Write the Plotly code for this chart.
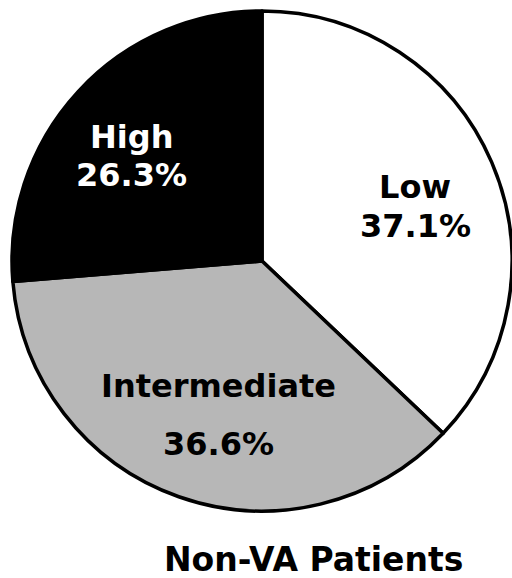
import plotly.graph_objects as go

categories = ["Low", "Intermediate", "High"]
percents = [37.1, 36.6, 26.3]
slice_colors = ["#ffffff", "#b7b7b7", "#000000"]
label_colors = ["#000000", "#000000", "#ffffff"]
title_text = "Non-VA Patients"

W, H = 512, 578

fig = go.Figure(
    go.Pie(
        labels=categories,
        values=percents,
        sort=False,
        direction="clockwise",
        rotation=0,
        marker=dict(colors=slice_colors, line=dict(color="#000000", width=3.5)),
        textinfo="none",
        hoverinfo="label+percent",
        showlegend=False,
        domain=dict(x=[12 / W, 1.0], y=[(H - 513) / H, (H - 9) / H]),
    )
)

# label text positions (pixel centres of each line: name line, percent line)
label_pos = {
    "Low": ((415, 187), (415, 226)),
    "Intermediate": ((218, 386), (218, 444)),
    "High": ((131, 137), (131, 175)),
}

font_family = "DejaVu Sans"
annotations = []
for cat, pct, col in zip(categories, percents, label_colors):
    (x1, y1), (x2, y2) = label_pos[cat]
    for txt, (px, py) in ((cat, (x1, y1)), (f"{pct:.1f}%", (x2, y2))):
        annotations.append(
            dict(
                text=txt,
                x=px / W,
                y=(H - py) / H,
                xref="paper",
                yref="paper",
                xanchor="center",
                yanchor="middle",
                showarrow=False,
                font=dict(family=font_family, size=32, color=col, weight="bold"),
            )
        )

annotations.append(
    dict(
        text=title_text,
        x=313 / W,
        y=(H - 559) / H,
        xref="paper",
        yref="paper",
        xanchor="center",
        yanchor="middle",
        showarrow=False,
        font=dict(family=font_family, size=33, color="#000000", weight="bold"),
    )
)

fig.update_layout(
    width=W,
    height=H,
    margin=dict(l=0, r=0, t=0, b=0),
    paper_bgcolor="#ffffff",
    plot_bgcolor="#ffffff",
    annotations=annotations,
)

fig.write_html("out.html", config=dict(displayModeBar=False))
